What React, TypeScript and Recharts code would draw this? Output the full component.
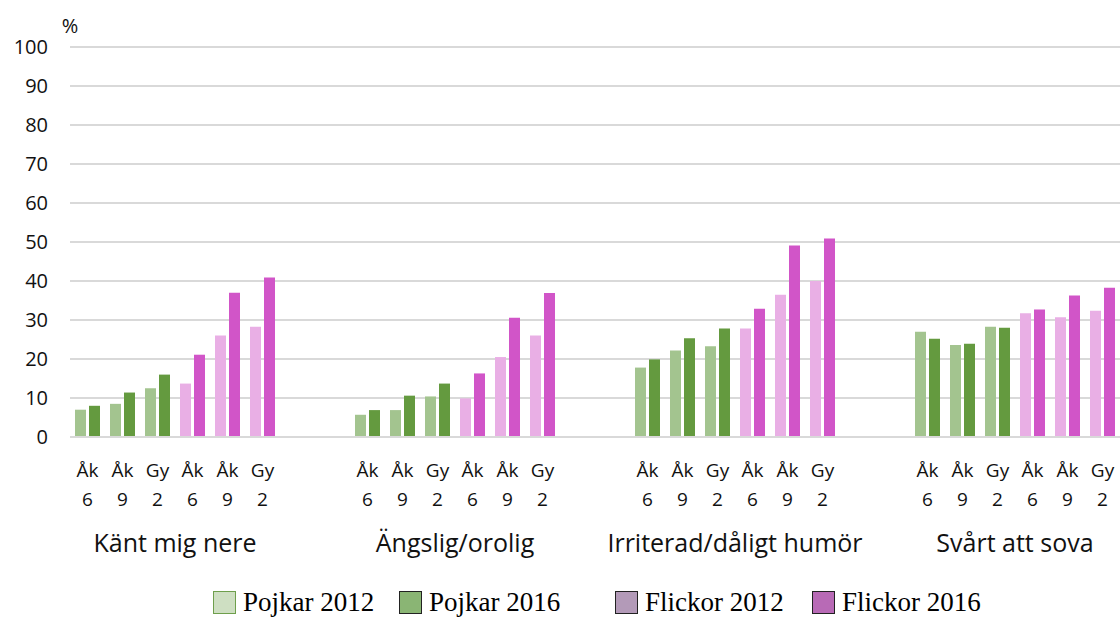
import React from "react";
import {
  BarChart,
  Bar,
  Cell,
  XAxis,
  YAxis,
  CartesianGrid,
  Legend,
} from "recharts";

// symptom groups and sub-categories (boys Åk6/Åk9/Gy2, then girls Åk6/Åk9/Gy2)
const groups = ["Känt mig nere", "Ängslig/orolig", "Irriterad/dåligt humör", "Svårt att sova"];
const subTop = ["Åk", "Åk", "Gy", "Åk", "Åk", "Gy"];
const subBottom = ["6", "9", "2", "6", "9", "2"];
const yTicks = [0, 10, 20, 30, 40, 50, 60, 70, 80, 90, 100];

const nere2012 = [7.0, 8.5, 12.5, 13.7, 26.0, 28.3];
const nere2016 = [8.0, 11.4, 16.0, 21.1, 37.0, 40.9];
const angslig2012 = [5.7, 6.9, 10.4, 9.9, 20.5, 26.0];
const angslig2016 = [6.9, 10.6, 13.7, 16.3, 30.6, 36.9];
const irriterad2012 = [17.8, 22.2, 23.3, 27.8, 36.5, 40.0];
const irriterad2016 = [19.9, 25.3, 27.8, 32.9, 49.1, 50.9];
const sova2012 = [27.0, 23.6, 28.3, 31.7, 30.7, 32.4];
const sova2016 = [25.2, 23.9, 28.0, 32.7, 36.3, 38.3];

const values2012 = [nere2012, angslig2012, irriterad2012, sova2012];
const values2016 = [nere2016, angslig2016, irriterad2016, sova2016];

const legendItems = [
  { label: "Pojkar 2012", fill: "#CEDFC2", border: "#6E9F4C" },
  { label: "Pojkar 2016", fill: "#8AB574", border: "#222" },
  { label: "Flickor 2012", fill: "#B39AB8", border: "#222" },
  { label: "Flickor 2016", fill: "#B86AB6", border: "#222" },
];

const BOY_2012 = "#A3C48F";
const BOY_2016 = "#649A3F";
const GIRL_2012 = "#E9AFE5";
const GIRL_2016 = "#D155C8";

type Row = {
  key: string;
  top: string;
  bottom: string;
  group: string;
  girl: boolean;
  y2012: number | null;
  y2016: number | null;
};

const data: Row[] = [];
groups.forEach((g, gi) => {
  subTop.forEach((t, i) => {
    data.push({
      key: `${gi}-${i}`,
      top: t,
      bottom: subBottom[i],
      group: i === 2 ? g : "",
      girl: i >= 3,
      y2012: values2012[gi][i],
      y2016: values2016[gi][i],
    });
  });
  if (gi < groups.length - 1) {
    for (let k = 0; k < 2; k++) {
      data.push({ key: `gap-${gi}-${k}`, top: "", bottom: "", group: "", girl: false, y2012: null, y2016: null });
    }
  }
});

const font = "'Open Sans', sans-serif";

function XTick(props: any) {
  const { x, y, payload, index } = props;
  const row = data[index];
  if (!row) return null;
  return (
    <g>
      <text x={x} y={y + 32} textAnchor="middle" fontFamily={font} fontSize={19} fill="#111">
        {row.top}
      </text>
      <text x={x} y={y + 61} textAnchor="middle" fontFamily={font} fontSize={19} fill="#111">
        {row.bottom}
      </text>
      {row.group && (
        <text
          x={x + (payload.offset || 17.5)}
          y={y + 107}
          textAnchor="middle"
          fontFamily={font}
          fontSize={25}
          fill="#111"
        >
          {row.group}
        </text>
      )}
    </g>
  );
}

function YTick(props: any) {
  const { x, y, payload } = props;
  return (
    <text x={x} y={y} dy={7} textAnchor="end" fontFamily={font} fontSize={20} fill="#111">
      {payload.value}
    </text>
  );
}

function LegendContent() {
  const lefts = [213, 399, 615, 812];
  return (
    <div style={{ position: "relative", width: 1120, height: 40 }}>
      {legendItems.map((it, i) => (
        <div
          key={it.label}
          style={{
            position: "absolute",
            left: lefts[i],
            top: 10,
            display: "flex",
            alignItems: "center",
            whiteSpace: "nowrap",
          }}
        >
          <span
            style={{
              display: "inline-block",
              width: 21,
              height: 21,
              background: it.fill,
              border: `1.5px solid ${it.border}`,
              marginRight: 7,
            }}
          />
          <span style={{ fontFamily: "'Liberation Serif', serif", fontSize: 27, color: "#000", lineHeight: "26px" }}>
            {it.label}
          </span>
        </div>
      ))}
    </div>
  );
}

export default function App() {
  return (
    <div style={{ position: "absolute", left: 0, top: 0, width: 1120, height: 619, background: "#fff" }}>
      <BarChart
        width={1120}
        height={619}
        data={data}
        margin={{ top: 47, right: 0, bottom: 0, left: 0 }}
        barSize={11}
        barGap={3}
      >
        <CartesianGrid vertical={false} stroke="#D9D9D9" strokeWidth={2} />
        <XAxis
          dataKey="key"
          interval={0}
          height={142}
          axisLine={{ stroke: "#D9D9D9", strokeWidth: 2 }}
          tickLine={false}
          tick={<XTick />}
        />
        <YAxis
          domain={[0, 100]}
          ticks={yTicks}
          width={70}
          axisLine={false}
          tickLine={false}
          tickMargin={16}
          tick={<YTick />}
          label={{
            content: (p: any) => (
              <text
                x={p.viewBox.x + p.viewBox.width}
                y={p.viewBox.y - 14}
                textAnchor="middle"
                fontFamily={font}
                fontSize={20}
                fill="#111"
              >
                %
              </text>
            ),
          }}
        />
        <Legend verticalAlign="bottom" height={40} content={<LegendContent />} />
        <Bar dataKey="y2012" isAnimationActive={false}>
          {data.map((d) => (
            <Cell key={d.key} fill={d.girl ? GIRL_2012 : BOY_2012} />
          ))}
        </Bar>
        <Bar dataKey="y2016" isAnimationActive={false}>
          {data.map((d) => (
            <Cell key={d.key} fill={d.girl ? GIRL_2016 : BOY_2016} />
          ))}
        </Bar>
      </BarChart>
    </div>
  );
}
